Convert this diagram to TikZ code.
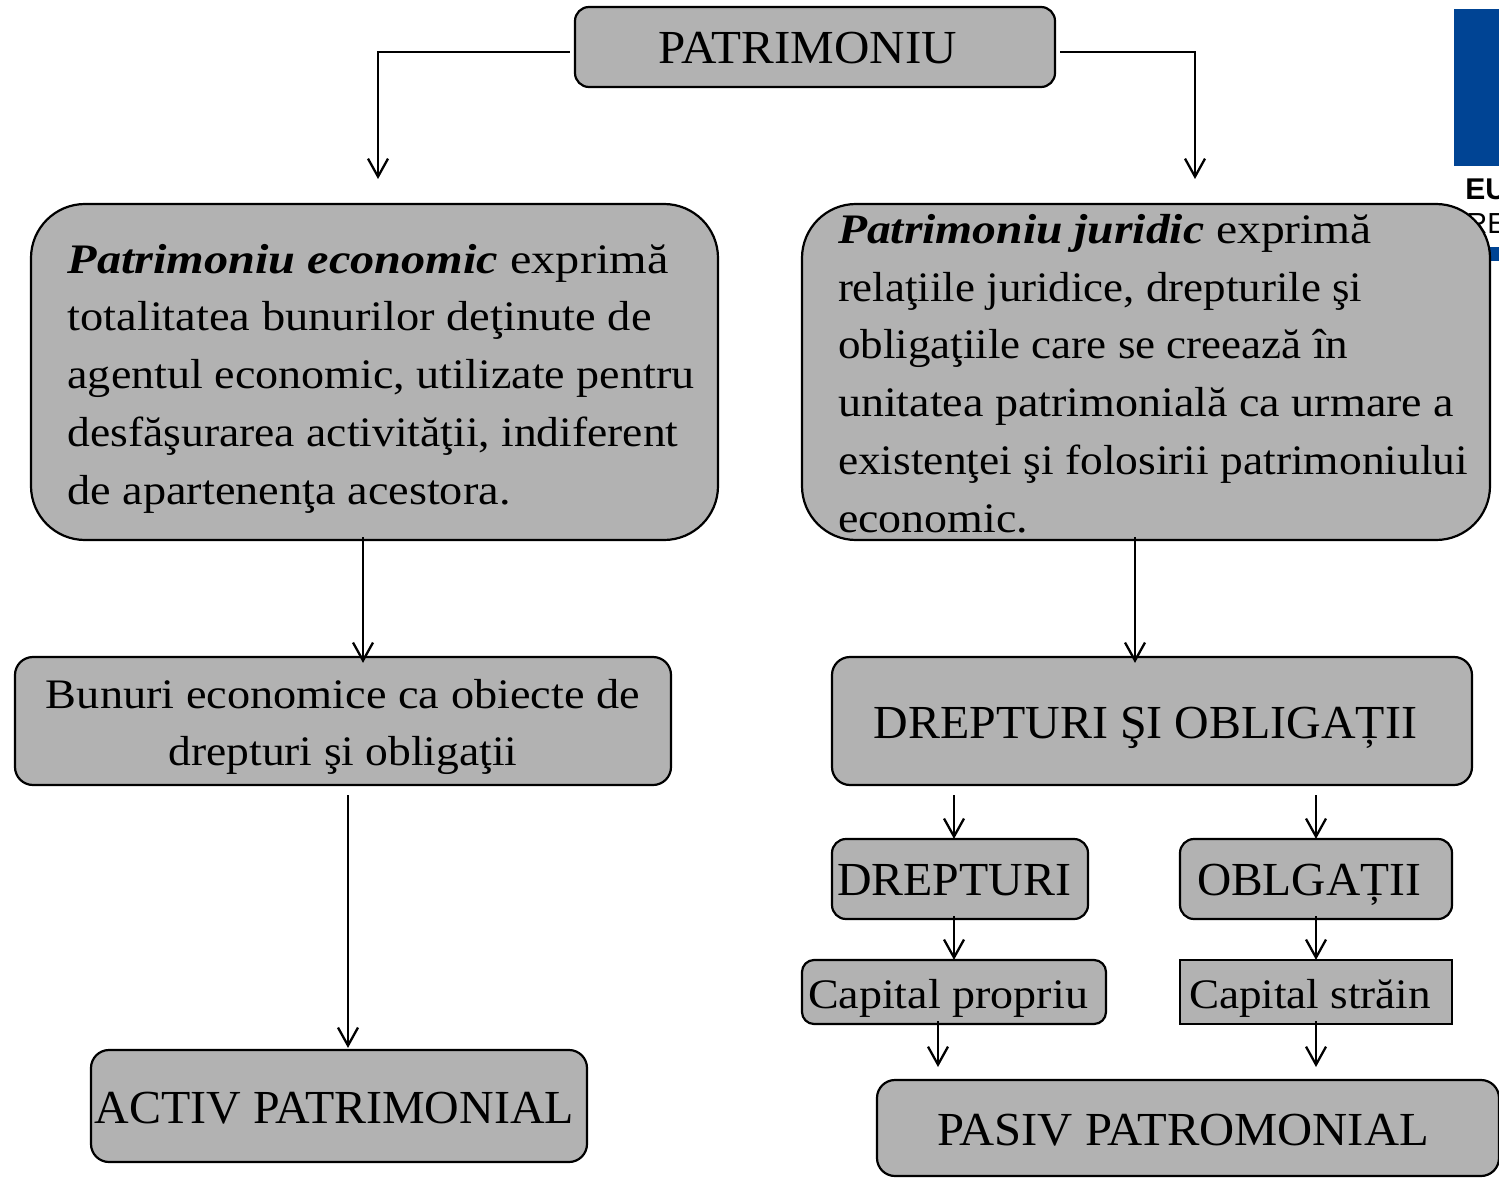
\documentclass[tikz,border=0pt]{standalone}
\usepackage{fontspec}
\usepackage{graphicx}
\setmainfont{Liberation Serif}
\newfontfamily\logofont{Liberation Sans}
\usetikzlibrary{arrows.meta,calc}
\definecolor{boxgrey}{HTML}{B2B2B2}
\definecolor{logoblue}{HTML}{004494}
\newcommand{\fit}[2]{\resizebox{\dimexpr#1pt/2\relax}{\height}{#2}}
\newcommand{\lowsize}{\fontsize{21}{28.85}\selectfont}
\newcommand{\capsize}{\fontsize{23.7}{28.85}\selectfont}
\tikzset{
 x=0.5pt,y=-0.5pt,
 card/.style={draw=black,line width=1.1pt,fill=boxgrey,rounded corners=#1,inner sep=0pt},
 card/.default=7pt,
 words/.style={inner sep=0pt,outer sep=0pt,text=black,font=\lowsize,align=left},
 capwords/.style={inner sep=0pt,outer sep=0pt,text=black,font=\capsize,anchor=base},
 linkline/.style={draw=black,line width=1.15pt,-{Straight Barb[length=9pt,width=10pt,line width=1.15pt]}}
}
\begin{document}
\begin{tikzpicture}
\useasboundingbox (0,0) rectangle (1499,1182);
% logo fragment
\begin{scope}
\clip (0,0) rectangle (1499,1182);
\fill[logoblue] (1454,9) rectangle (1499,166);
\fill[logoblue] (1454,247) rectangle (1499,261);
\node[inner sep=0pt,anchor=base west,font=\logofont\bfseries\fontsize{15}{16}\selectfont] (eu) at (1465,200) {EU};
\node[inner sep=0pt,anchor=base west,font=\logofont\fontsize{14.5}{16}\selectfont] (re) at (1466,234) {RE};
\end{scope}
% boxes
\node[card,minimum width=240pt,minimum height=40pt] (top) at (815,47) {};
\node[card=27pt,minimum width=343.5pt,minimum height=168pt] (econ) at (374.5,372) {};
\node[card=27pt,minimum width=344pt,minimum height=168pt] (jur) at (1146,372) {};
\node[card=9pt,minimum width=328pt,minimum height=64pt] (bun) at (343,721) {};
\node[card=9pt,minimum width=320pt,minimum height=64pt] (dro) at (1152,721) {};
\node[card,minimum width=128pt,minimum height=40pt] (dr) at (960,879) {};
\node[card,minimum width=136pt,minimum height=40pt] (ob) at (1316,879) {};
\node[card=6pt,minimum width=152pt,minimum height=32pt] (cp) at (954,992) {};
\node[card=0pt,minimum width=136pt,minimum height=32pt] (cs) at (1316,992) {};
\node[card=9pt,minimum width=248pt,minimum height=56pt] (act) at (339,1106) {};
\node[card=9pt,minimum width=311pt,minimum height=48pt] (pas) at (1188,1128) {};
% texts
\node[capwords] (topT) at (808,64) {\fit{298}{PATRIMONIU}};
\node[words,anchor=west] (econT) at (67.5,378.5) {%
\fit{601}{\textbf{\textit{Patrimoniu economic}} exprimă}\\
\fit{584}{totalitatea bunurilor deţinute de}\\
\fit{627}{agentul economic, utilizate pentru}\\
\fit{611}{desfăşurarea activităţii, indiferent}\\
\fit{443}{de apartenenţa acestora.}};
\node[words,anchor=west] (jurT) at (838,373.5) {%
\fit{534}{\textbf{\textit{Patrimoniu juridic}} exprimă}\\
\fit{524}{relaţiile juridice, drepturile şi}\\
\fit{510}{obligaţiile care se creează în}\\
\fit{616}{unitatea patrimonială ca urmare a}\\
\fit{630}{existenţei şi folosirii patrimoniului}\\
\fit{190}{economic.}};
\node[words,align=center,anchor=center] (bunT) at (343,727) {%
\fit{594}{Bunuri economice ca obiecte de}\\
\fit{349}{drepturi şi obligaţii}};
\node[capwords] (droT) at (1145.5,738) {\fit{543}{DREPTURI ŞI OBLIGAȚII}};
\node[capwords] (drT) at (954,895) {\fit{234}{DREPTURI}};
\node[capwords] (obT) at (1309,895) {\fit{224}{OBLGAȚII}};
\node[words,anchor=base] (cpT) at (948,1008) {\fit{280}{Capital propriu}};
\node[words,anchor=base] (csT) at (1310,1008) {\fit{242}{Capital străin}};
\node[capwords] (actT) at (334.5,1123) {\fit{479}{ACTIV PATRIMONIAL}};
\node[capwords] (pasT) at (1183,1145) {\fit{492}{PASIV PATROMONIAL}};
% free ends
\coordinate (econIn) at (378,179);
\coordinate (jurIn) at (1195,179);
\coordinate (pasL) at (938,1067);
\coordinate (pasR) at (1316,1067);
% connectors
\draw[linkline] ($(top.west)+(-4,5)$) -| (econIn);
\draw[linkline] ($(top.east)+(4,5)$) -| (jurIn);
\draw[linkline] ($(econ.south)+(-11.5,-4)$) -- ($(bun.north)+(20,7)$);
\draw[linkline] ($(jur.south)+(-11,-4)$) -- ($(dro.north)+(-17,7)$);
\draw[linkline] ($(bun.south)+(5,9)$) -- ($(act.north)+(9,-1)$);
\draw[linkline] ($(dro.south)+(-198,9)$) -- ($(dr.north)+(-6,1)$);
\draw[linkline] ($(dro.south)+(164,9)$) -- ($(ob.north)+(0,1)$);
\draw[linkline] ($(dr.south)+(-6,-4)$) -- ($(cp.north)+(0,1)$);
\draw[linkline] ($(ob.south)+(0,-4)$) -- ($(cs.north)+(0,1)$);
\draw[linkline] ($(cp.south)+(-16,-4)$) -- (pasL);
\draw[linkline] ($(cs.south)+(0,-4)$) -- (pasR);
\end{tikzpicture}
\end{document}
